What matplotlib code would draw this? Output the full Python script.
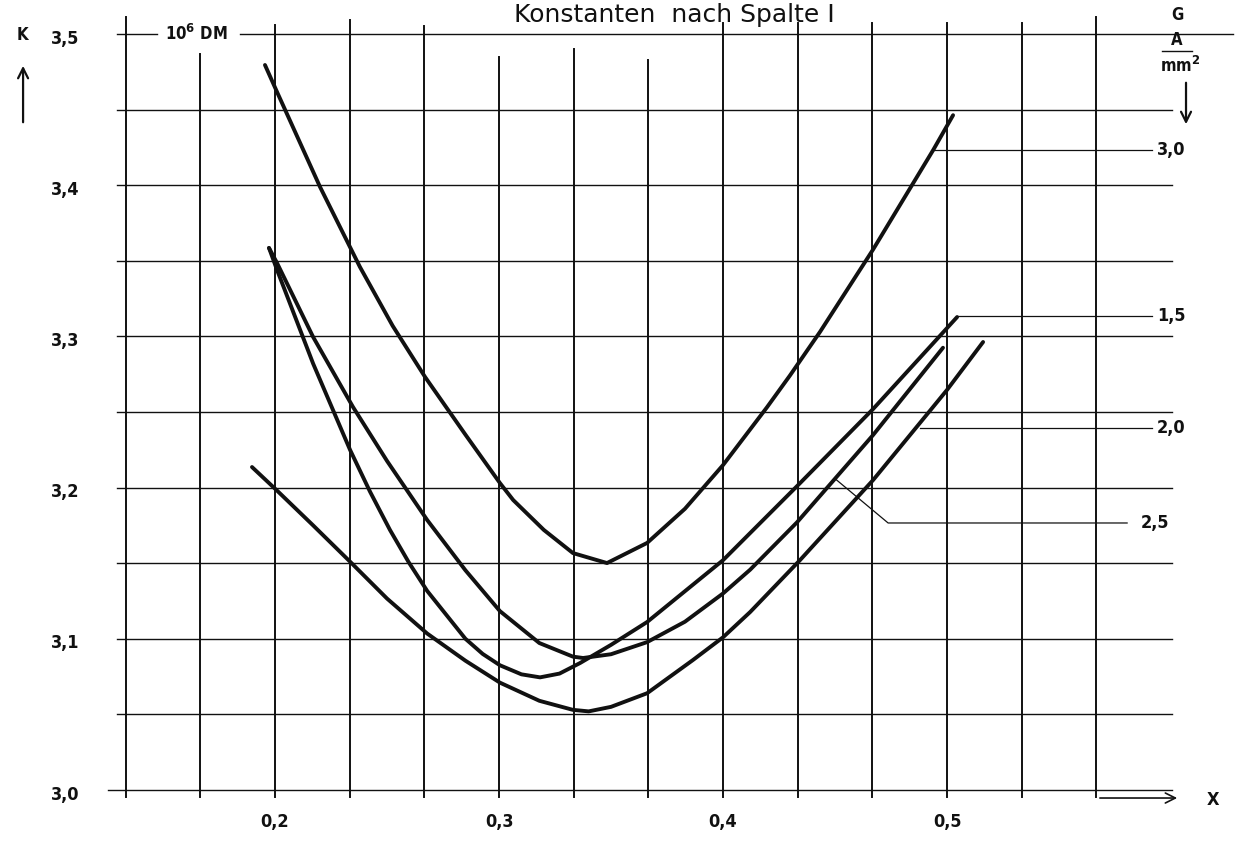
import numpy as np
import matplotlib
matplotlib.use('Agg')
import matplotlib.pyplot as plt

# Values (x, K in 10^6 DM), one curve per G in A/mm2
x_g30 = [0.1955, 0.2009, 0.2201, 0.2379, 0.2525, 0.2670, 0.2850, 0.3004, 0.3063, 0.3200,
         0.3330, 0.3482, 0.3661, 0.3830, 0.4000, 0.4196, 0.4299, 0.4433, 0.4670, 0.4938, 0.5027]
k_g30 = [3.4795, 3.4616, 3.3988, 3.3459, 3.3070, 3.2731, 3.2350, 3.2030, 3.1918, 3.1720,
         3.1567, 3.1501, 3.1634, 3.1860, 3.2149, 3.2531, 3.2742, 3.3030, 3.3575, 3.4232, 3.4463]

x_g15 = [0.1973, 0.2009, 0.2170, 0.2335, 0.2424, 0.2513, 0.2596, 0.2679, 0.2850, 0.2927,
         0.3004, 0.3100, 0.3183, 0.3270, 0.3362, 0.3500, 0.3661, 0.4000, 0.4344, 0.4670, 0.5045]
k_g15 = [3.3585, 3.3439, 3.2820, 3.2249, 3.1973, 3.1720, 3.1508, 3.1317, 3.1000, 3.0900,
         3.0825, 3.0765, 3.0745, 3.0770, 3.0840, 3.0960, 3.1111, 3.1520, 3.2030, 3.2520, 3.3128]

x_g25 = [0.1973, 0.2009, 0.2170, 0.2348, 0.2500, 0.2679, 0.2850, 0.3004, 0.3180, 0.3330,
         0.3375, 0.3500, 0.3661, 0.3830, 0.4000, 0.4121, 0.4330, 0.4670, 0.4982]
k_g25 = [3.3585, 3.3485, 3.2996, 3.2533, 3.2176, 3.1786, 3.1453, 3.1183, 3.0972, 3.0882,
         3.0873, 3.0898, 3.0978, 3.1113, 3.1300, 3.1457, 3.1770, 3.2348, 3.2925]

x_g20 = [0.1897, 0.2009, 0.2170, 0.2335, 0.2500, 0.2679, 0.2850, 0.3004, 0.3180, 0.3330,
         0.3400, 0.3500, 0.3661, 0.3866, 0.4000, 0.4121, 0.4344, 0.4670, 0.5000, 0.5161]
k_g20 = [3.2136, 3.1980, 3.1750, 3.1510, 3.1266, 3.1035, 3.0855, 3.0710, 3.0590, 3.0530,
         3.0520, 3.0550, 3.0640, 3.0860, 3.1010, 3.1177, 3.1521, 3.2050, 3.2646, 3.2963]

curve_names = ['3,0', '1,5', '2,0', '2,5']
curve_x = [x_g30, x_g15, x_g20, x_g25]
curve_k = [k_g30, k_g15, k_g20, k_g25]
# where the leader line leaves each curve, and the level of its label
leader_x = [0.4938, 0.5045, 0.4879, 0.4500]
label_k = [3.4233, 3.3135, 3.2394, 3.1766]

x_ticks = [0.2, 0.3, 0.4, 0.5]
x_tick_labels = ['0,2', '0,3', '0,4', '0,5']
y_ticks = [3.0, 3.1, 3.2, 3.3, 3.4, 3.5]
y_tick_labels = ['3,0', '3,1', '3,2', '3,3', '3,4', '3,5']

title = 'Konstanten  nach Spalte I'

# ---- figure: one axes filling the sheet, everything in data units ----
fig = plt.figure(figsize=(12.4, 8.43), dpi=100)
ax = fig.add_axes([0, 0, 1, 1])
ax.set_xlim(0.0772, 0.6308)
ax.set_ylim(2.96495, 3.52249)
ax.axis('off')

ink = '#111111'
lab = dict(family='DejaVu Sans', fontstretch='condensed', fontweight='bold', color=ink)

# vertical grid lines every 1/30, drawn from a ragged top down past the base line
grid_x = np.arange(4, 18) / 30
grid_top = [3.511, 3.487, 3.506, 3.509, 3.505, 3.485, 3.490, 3.483,
            3.507, 3.507, 3.507, 3.507, 3.507, 3.511]
for gx, top in zip(grid_x, grid_top):
    ax.plot([gx, gx], [2.9955, top], color=ink, lw=1.4)

# horizontal grid lines every 0.05
for gk in np.arange(3.0, 3.451, 0.05):
    x_start = 0.1254 if gk < 3.01 else 0.1295
    ax.plot([x_start, 0.6004], [gk, gk], color=ink, lw=1.0)
# top line is broken by the unit label and runs on as fraction bar
ax.plot([0.1295, 0.1473], [3.5, 3.5], color=ink, lw=1.0)
ax.plot([0.1844, 0.6277], [3.5, 3.5], color=ink, lw=1.0)
ax.text(0.1510, 3.500, '10$^\\mathbf{6}$ DM', fontsize=12, va='center', ha='left', **lab)

# curves
for xs, ks in zip(curve_x, curve_k):
    ax.plot(xs, ks, color=ink, lw=2.8, solid_capstyle='round', solid_joinstyle='round')

# leader lines and curve labels
for name, xs, ks, lx, lk in zip(curve_names, curve_x, curve_k, leader_x, label_k):
    ly = np.interp(lx, xs, ks)
    if name == '2,5':
        ax.plot([lx, 0.4737, 0.5804], [ly, lk, lk], color=ink, lw=0.9)
        ax.text(0.5929, lk, name, fontsize=13, ha='center', va='center', **lab)
    else:
        ax.plot([lx, 0.5915], [lk, lk], color=ink, lw=0.9)
        ax.text(0.6000, lk, name, fontsize=13, ha='center', va='center', **lab)

# tick labels
for t, s in zip(x_ticks, x_tick_labels):
    ax.text(t, 2.9788, s, fontsize=13, ha='center', va='center', **lab)
for t, s in zip(y_ticks, y_tick_labels):
    ax.text(0.1063, t - 0.003, s, fontsize=13, ha='center', va='center', **lab)

# axis names with arrows
ax.text(0.0871, 3.4993, 'K', fontsize=12, ha='center', va='center', **lab)
ax.annotate('', xy=(0.0875, 3.4808), xytext=(0.0875, 3.4398),
            arrowprops=dict(arrowstyle='->', color=ink, lw=1.6, mutation_scale=18))
ax.annotate('', xy=(0.6040, 2.9947), xytext=(0.5670, 2.9947),
            arrowprops=dict(arrowstyle='->', color=ink, lw=1.2, mutation_scale=18))
ax.text(0.6188, 2.9934, 'X', fontsize=13, ha='center', va='center', **lab)

ax.text(0.6027, 3.5126, 'G', fontsize=12, ha='center', va='center', **lab)
ax.text(0.6027, 3.4960, 'A', fontsize=12, ha='center', va='center', **lab)
ax.plot([0.5960, 0.6094], [3.4885, 3.4885], color=ink, lw=1.0)
ax.text(0.6040, 3.4790, 'mm$^\\mathbf{2}$', fontsize=12, ha='center', va='center', **lab)
ax.annotate('', xy=(0.6067, 3.4385), xytext=(0.6067, 3.4696),
            arrowprops=dict(arrowstyle='->', color=ink, lw=1.6, mutation_scale=18))

ax.text(0.4500, 3.5080, title, fontsize=18, ha='right', va='baseline',
        family='DejaVu Sans', color=ink)

fig.savefig('out.png', dpi=100, facecolor='white')
